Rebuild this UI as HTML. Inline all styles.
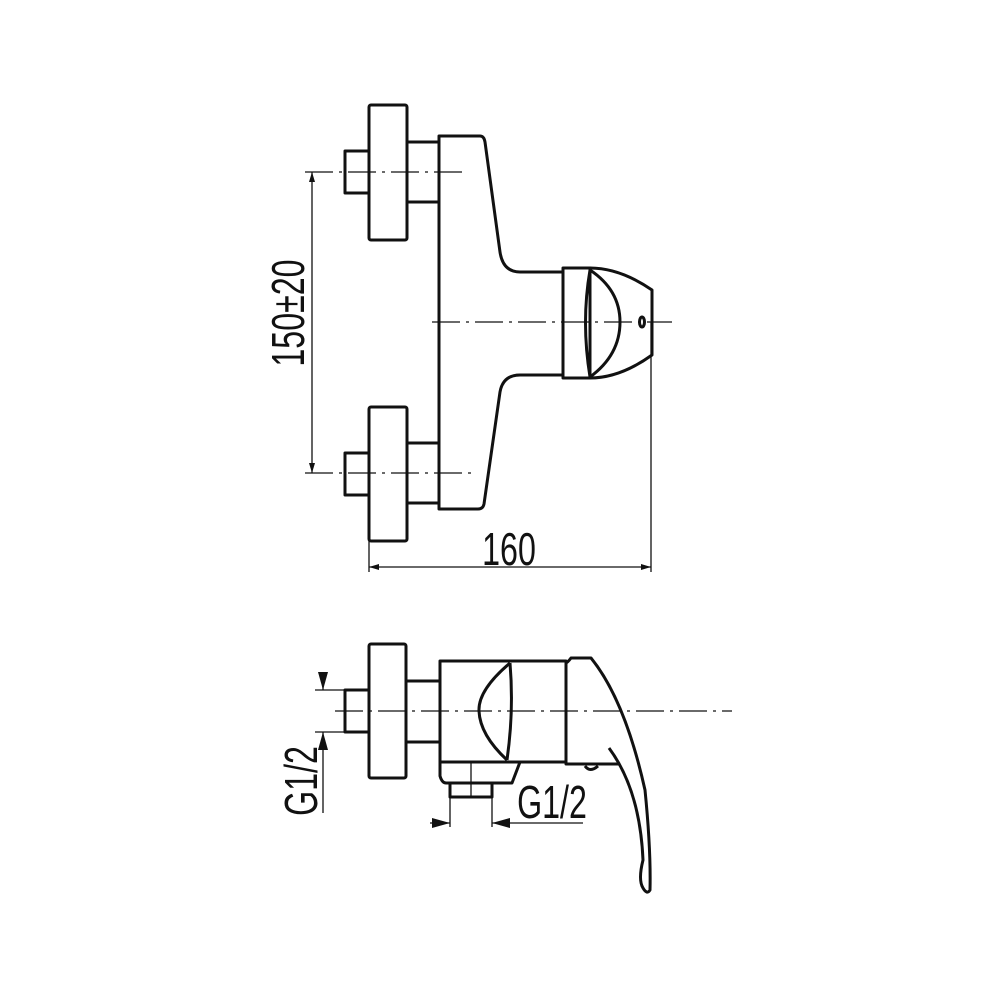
<!DOCTYPE html>
<html><head><style>body{margin:0;background:#fff}svg{display:block}text{font-family:"Liberation Sans",sans-serif;fill:#111}</style></head><body>
<svg width="1000" height="1000" viewBox="0 0 1000 1000" xmlns="http://www.w3.org/2000/svg">
<defs><marker id="a" viewBox="0 0 10 6" refX="10" refY="3" markerWidth="10" markerHeight="6" orient="auto-start-reverse" markerUnits="userSpaceOnUse"><path d="M0,0L10,3L0,6z" fill="#111"/></marker>
<marker id="b" viewBox="0 0 18 10" refX="18" refY="5" markerWidth="18" markerHeight="10" orient="auto-start-reverse" markerUnits="userSpaceOnUse"><path d="M0,0L18,5L0,10z" fill="#111"/></marker></defs>
<g fill="none" stroke="#111" stroke-width="3" stroke-linejoin="round">
<rect x="369" y="105" width="38" height="135" rx="2"/>
<rect x="369" y="407" width="38" height="134" rx="2"/>
<rect x="345" y="151" width="24" height="42"/>
<rect x="345" y="453" width="24" height="42"/>
<path d="M407,142H439M407,202H439M407,443H439M407,503H439"/>
<path d="M439,136H480Q484,136 485,142L500,252Q503,272 520,272H563V375H520Q503,375 500,392L484,504Q483,509 478,509H439Z"/>
<path d="M563,268H590V378H563Z"/>
<path d="M590,268Q620,268 652,290V355Q620,378 590,378"/>
<path d="M590,270Q620,290 620,322Q620,355 590,377"/>
<path d="M590,270Q581,322 590,377"/>
<ellipse cx="642" cy="322" rx="2.5" ry="5" stroke-width="3"/>
<rect x="369" y="644" width="37" height="134" rx="2"/>
<rect x="345" y="690" width="24" height="42"/>
<path d="M406,681H440M406,742H440"/>
<path d="M440,661H566V762H440Z"/>
<path d="M510,663Q478,690 479,711Q480,735 507,760"/>
<path d="M510,663Q514,711 507,760"/>
<path d="M440,762V776Q442,783 446,783H512L520,762"/>
<path d="M450,783V797H492V783"/>
<path d="M566,663Q568,662 571,658H591Q625,700 645,790Q651,850 650,890Q647,895 643,888Q638,880 643,860Q640,790 609,748"/>
<path d="M566,762V764H620"/>
<path d="M585,766Q590,773 598,766"/>
</g>
<g fill="none" stroke="#111" stroke-width="1.3">
<path d="M305,172H466M305,473H473M432,322H672M335,711H732" stroke-dasharray="28,6,3,6"/>
<path d="M471,762V797"/>
<path d="M312,172V473" marker-start="url(#a)" marker-end="url(#a)"/>
<path d="M369,541V572M651,322V572"/>
<path d="M369,567H651" marker-start="url(#a)" marker-end="url(#a)"/>
<path d="M315,690H345M315,732H345"/>
<path d="M323,673V690" marker-end="url(#b)"/>
<path d="M323,813V732" marker-end="url(#b)"/>
<path d="M450,797V827M492,797V827"/>
<path d="M430,823H450" marker-end="url(#b)"/>
<path d="M583,823H492" marker-end="url(#b)"/>
</g>
<text x="0" y="0" font-size="46" transform="translate(304,313) rotate(-90) scale(0.7,1)" text-anchor="middle">150±20</text>
<text x="0" y="0" font-size="46" transform="translate(509,565) scale(0.7,1)" text-anchor="middle">160</text>
<text x="0" y="0" font-size="46" transform="translate(317,781) rotate(-90) scale(0.7,1)" text-anchor="middle">G1/2</text>
<text x="0" y="0" font-size="46" transform="translate(552,818) scale(0.7,1)" text-anchor="middle">G1/2</text>
</svg>
</body></html>
